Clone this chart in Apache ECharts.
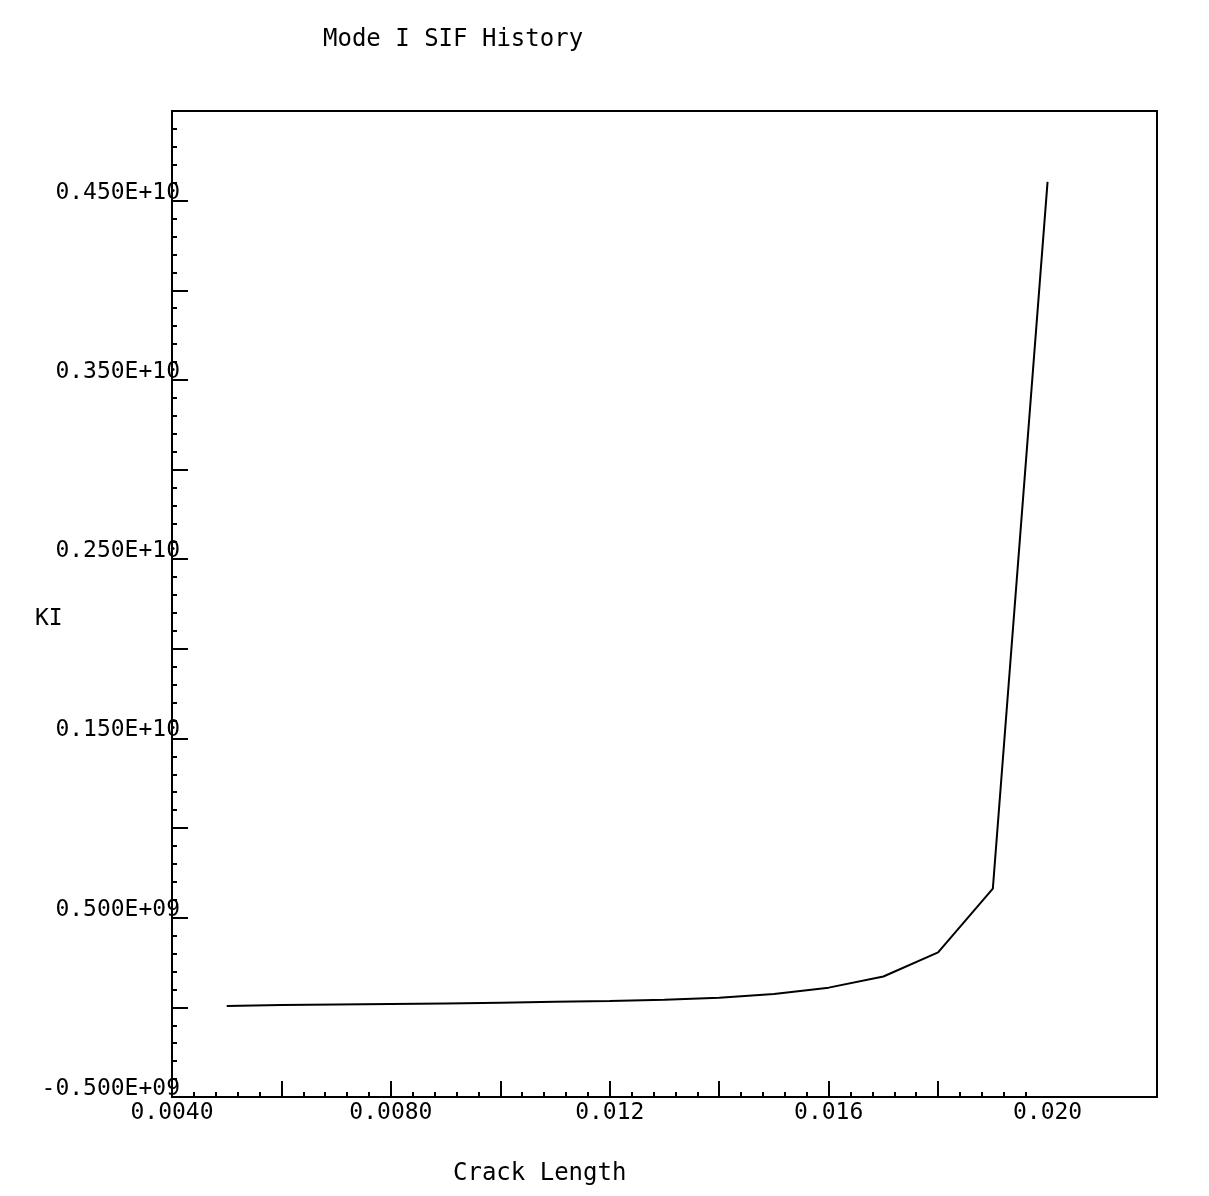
<!DOCTYPE html>
<html>
<head>
<meta charset="utf-8">
<script src="https://cdn.jsdelivr.net/npm/echarts@6/dist/echarts.min.js"></script>
<style>
  html, body { margin: 0; padding: 0; background: #fff; }
  #chart { width: 1209px; height: 1196px; }
</style>
</head>
<body>
<div id="chart"></div>
<script>
// crack length vs mode I stress intensity factor
const crackLength = [0.005, 0.006, 0.007, 0.008, 0.009, 0.010, 0.011, 0.012,
  0.013, 0.014, 0.015, 0.016, 0.017, 0.018, 0.019, 0.020];
const kI = [0.008e9, 0.013e9, 0.016e9, 0.019e9, 0.022e9, 0.026e9, 0.031e9, 0.036e9,
  0.043e9, 0.053e9, 0.075e9, 0.110e9, 0.172e9, 0.307e9, 0.662e9, 4.605e9];

const xLabels = [0.004, 0.008, 0.012, 0.016, 0.020];
const xMajorTicks = [0.006, 0.008, 0.010, 0.012, 0.014, 0.016, 0.018];
const yLabels = [-0.5e9, 0.5e9, 1.5e9, 2.5e9, 3.5e9, 4.5e9];

// minor x ticks stop at 0.0196 like the original plot
const xMinorTicks = [];
for (let i = 1; i <= 39; i++) {
  if (i % 5 === 0) continue;
  xMinorTicks.push(Math.round((0.004 + i * 0.0004) * 1e5) / 1e5);
}

const font = "DejaVu Sans Mono";

function fmtE(v) {
  if (v === 0) return "0.000E+00";
  const e = Math.floor(Math.log10(Math.abs(v))) + 1;
  const m = v / Math.pow(10, e);
  return m.toFixed(3) + "E+" + String(e).padStart(2, "0");
}

const chart = echarts.init(document.getElementById("chart"));

const option = {
  backgroundColor: "#fff",
  animation: false,
  title: [
    { text: "Mode I SIF History", left: 323, top: 28, padding: 0,
      textStyle: { fontFamily: font, fontWeight: "normal", fontSize: 24, color: "#000" } },
    { text: "Crack Length", left: 453, top: 1162, padding: 0,
      textStyle: { fontFamily: font, fontWeight: "normal", fontSize: 24, color: "#000" } },
    { text: "KI", left: 35, top: 608, padding: 0,
      textStyle: { fontFamily: font, fontWeight: "normal", fontSize: 23, color: "#000" } }
  ],
  grid: {
    left: 172, right: 52, top: 111, bottom: 99,
    show: true, borderColor: "#000", borderWidth: 2, backgroundColor: "#fff"
  },
  xAxis: [
    {
      type: "value", min: 0.004, max: 0.022, position: "bottom",
      axisLine: { show: false, onZero: false },
      splitLine: { show: false },
      axisTick: {
        show: true, inside: true, length: 16, customValues: xMajorTicks,
        lineStyle: { color: "#000", width: 2 }
      },
      axisLabel: {
        customValues: xLabels, margin: 8, color: "#000",
        fontFamily: font, fontSize: 23, lineHeight: 16,
        formatter: (v) => (v < 0.01 ? v.toFixed(4) : v.toFixed(3))
      }
    },
    {
      type: "value", min: 0.004, max: 0.022, position: "bottom",
      axisLine: { show: false, onZero: false },
      splitLine: { show: false },
      axisLabel: { show: false },
      axisTick: {
        show: true, inside: true, length: 5, customValues: xMinorTicks,
        lineStyle: { color: "#000", width: 2 }
      }
    }
  ],
  yAxis: {
    type: "value", min: -0.5e9, max: 5e9, interval: 0.5e9,
    axisLine: { show: false, onZero: false },
    splitLine: { show: false },
    axisTick: { show: true, inside: true, length: 16, lineStyle: { color: "#000", width: 2 } },
    minorTick: { show: true, splitNumber: 5, length: 5, lineStyle: { color: "#000", width: 2 } },
    axisLabel: {
      customValues: yLabels, margin: -8, color: "#000",
      fontFamily: font, fontSize: 23, lineHeight: 16, verticalAlign: "bottom",
      formatter: fmtE
    }
  },
  series: [
    {
      type: "line",
      data: crackLength.map((x, i) => [x, kI[i]]),
      showSymbol: false,
      lineStyle: { color: "#000", width: 2 },
      xAxisIndex: 0
    }
  ]
};

chart.setOption(option);
</script>
</body>
</html>
